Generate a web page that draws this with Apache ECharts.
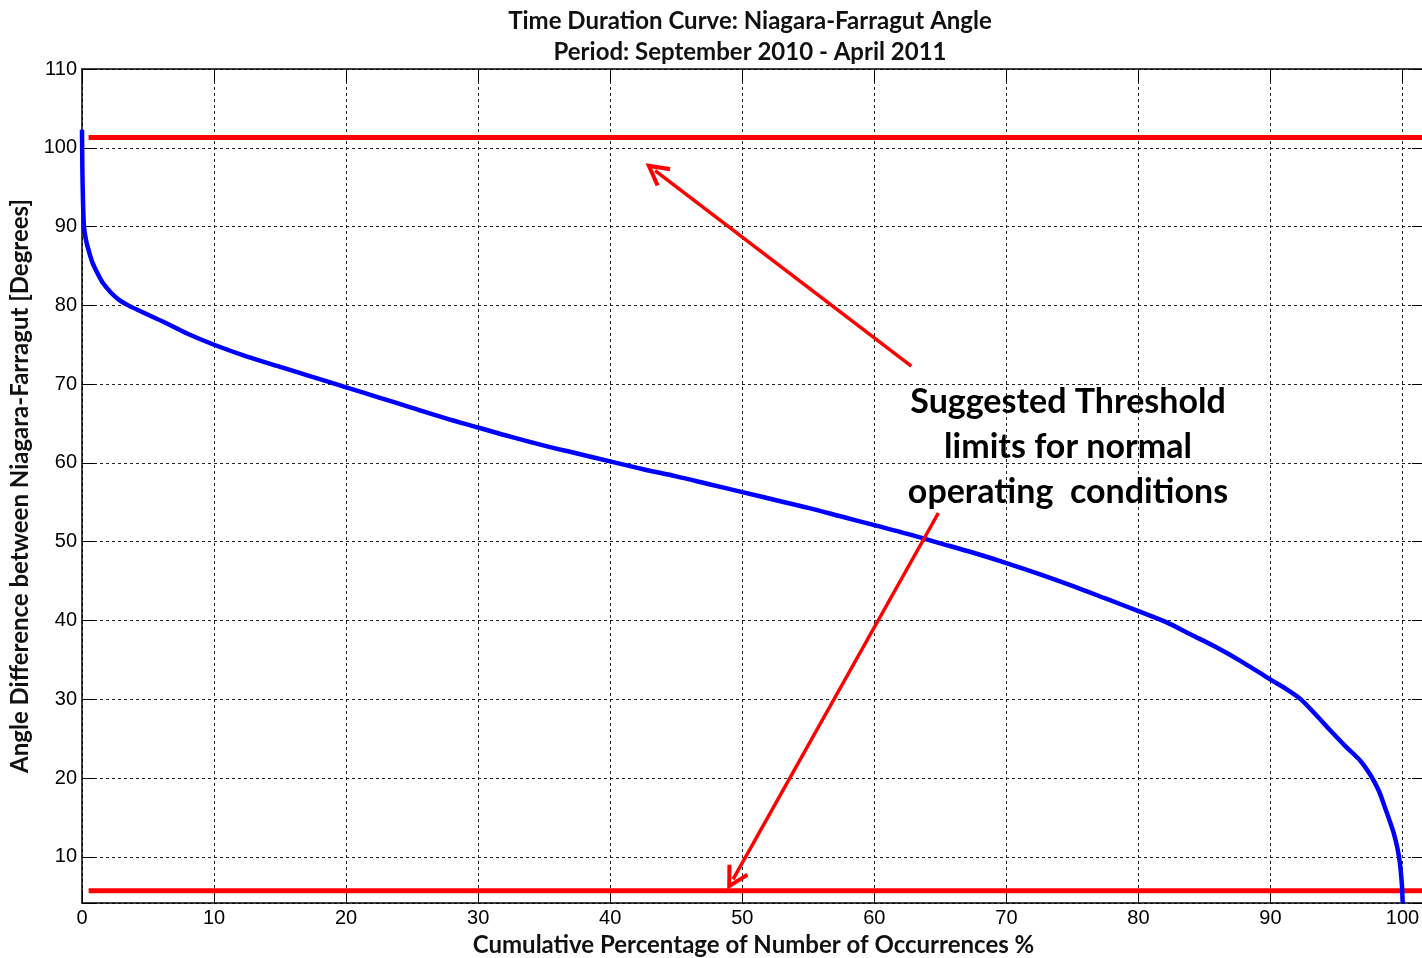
<!DOCTYPE html>
<html>
<head>
<meta charset="utf-8">
<script src="https://cdn.jsdelivr.net/npm/echarts@6/dist/echarts.min.js"></script>
<style>
  html, body { margin: 0; padding: 0; background: #fff; overflow: hidden; }
  #chart { width: 1422px; height: 958px; }
</style>
</head>
<body>
<div id="chart"></div>
<script>
// duration curve (percent of occurrences, degrees)
const durationX = [0, 0.03, 0.08, 0.15, 0.3, 0.5, 0.8, 1.2, 1.6, 2.2, 2.8, 3.5, 4.5, 6.3, 8, 10, 12.5, 15.2, 17.5, 20, 22.5, 25, 27.5, 30, 32.5, 35, 37.5, 40, 42.5, 45, 47.5, 50, 52.5, 55, 57.5, 60, 62.5, 65, 67.5, 70, 72.5, 75, 77.5, 80, 82.1, 84, 85.9, 88, 90, 91.2, 92.3, 93.4, 94.5, 95.7, 96.8, 97.6, 98.2, 98.6, 99, 99.3, 99.6, 99.8, 99.95, 100, 100.02]
const durationY = [102.3, 97, 93, 90, 88.3, 87, 85.4, 84, 82.8, 81.6, 80.7, 80, 79.2, 77.8, 76.4, 75, 73.5, 72.1, 70.9, 69.6, 68.3, 67, 65.7, 64.5, 63.3, 62.2, 61.2, 60.2, 59.2, 58.3, 57.3, 56.3, 55.3, 54.3, 53.2, 52.1, 51, 49.8, 48.6, 47.3, 45.9, 44.4, 42.8, 41.2, 39.8, 38.2, 36.6, 34.6, 32.5, 31.3, 30, 28.1, 26.1, 24, 22.2, 20.3, 18.4, 16.6, 14.7, 13.2, 11.2, 9.2, 6.5, 4.6, 4.15]

const upperLimit = 101.3
const lowerLimit = 5.7
const limitStart = 0.5

// annotation arrows: [from, to] in data coordinates
const arrowUpper = [[62.8, 72.3], [43.4, 97.1]]
const arrowLower = [[64.85, 53.65], [49.3, 7.15]]

const titleLines = ['Time Duration Curve: Niagara-Farragut Angle', 'Period: September 2010 - April 2011']
const noteLines = ['Suggested Threshold', 'limits for normal', 'operating  conditions']
const xName = 'Cumulative Percentage of Number of Occurrences %'
const yName = 'Angle Difference between Niagara-Farragut [Degrees]'

const xMin = 0, xMax = 101.7
const yMin = 4.15, yMax = 110

const chart = echarts.init(document.getElementById('chart'))

const tenOnly = v => (Math.abs(v % 10) < 1e-6 ? String(Math.round(v)) : '')
const gridLine = { show: true, lineStyle: { color: '#222', width: 1, type: [3, 3] } }
const frame = { show: true, onZero: false, lineStyle: { color: '#000', width: 1.5 } }
const inTicks = { show: true, inside: true, length: 13, lineStyle: { color: '#000', width: 1 } }
const chevron = 'path://M0,0 L12,21 L8.5,23 L0,8 L-8.5,23 L-12,21 Z'
const nameFont = { fontFamily: 'Lato', fontWeight: 'bold', fontSize: 24, color: '#111' }
const tickFont = { color: '#000', fontSize: 20, fontFamily: 'Liberation Sans' }

const option = {
  animation: false,
  backgroundColor: '#fff',
  title: {
    text: titleLines.join('\n'),
    left: 745,
    textAlign: 'center',
    top: 1,
    textStyle: { fontFamily: 'Lato', fontWeight: 'bold', fontSize: 24, color: '#111', lineHeight: 31 }
  },
  // plot box is fixed in pixels; let the names sit outside it freely
  grid: { left: 82, top: 69, right: -3, bottom: 55, containLabel: false, outerBoundsMode: 'none' },
  xAxis: [
    {
      type: 'value', min: xMin, max: xMax, splitNumber: 10,
      axisLine: frame, axisTick: inTicks, splitLine: gridLine,
      axisLabel: { formatter: tenOnly, margin: 5, ...tickFont },
      name: xName, nameLocation: 'middle', nameGap: 30, nameTextStyle: nameFont
    },
    {
      type: 'value', position: 'top', min: xMin, max: xMax, splitNumber: 10,
      axisLine: frame, axisTick: inTicks, splitLine: { show: false }, axisLabel: { show: false }
    }
  ],
  yAxis: [
    {
      type: 'value', min: yMin, max: yMax, splitNumber: 10,
      axisLine: frame, axisTick: inTicks, splitLine: gridLine,
      axisLabel: { formatter: tenOnly, margin: 5, ...tickFont },
      name: yName, nameLocation: 'middle', nameGap: 48, nameRotate: 90, nameTextStyle: nameFont
    },
    {
      type: 'value', position: 'right', min: yMin, max: yMax, splitNumber: 10,
      axisLine: frame, axisTick: inTicks, splitLine: { show: false }, axisLabel: { show: false }
    }
  ],
  graphic: [
    {
      type: 'text',
      x: 1068, y: 380,
      z: 100,
      style: {
        text: noteLines.join('\n'),
        align: 'center',
        textAlign: 'center',
        font: 'bold 34px Lato',
        lineHeight: 45,
        fill: '#000'
      }
    }
  ],
  series: [
    {
      name: 'upper', type: 'line', symbol: 'none', z: 2,
      data: [[limitStart, upperLimit], [xMax, upperLimit]],
      lineStyle: { color: '#ff0000', width: 5 }
    },
    {
      name: 'lower', type: 'line', symbol: 'none', z: 2,
      data: [[limitStart, lowerLimit], [xMax, lowerLimit]],
      lineStyle: { color: '#ff0000', width: 5 },
      markLine: {
        silent: true,
        symbol: ['none', chevron],
        symbolSize: [24, 24],
        label: { show: false },
        lineStyle: { color: '#ff0000', width: 3.5, type: 'solid' },
        data: [
          [{ coord: arrowUpper[0] }, { coord: arrowUpper[1] }],
          [{ coord: arrowLower[0] }, { coord: arrowLower[1] }]
        ]
      }
    },
    {
      name: 'duration', type: 'line', symbol: 'none', smooth: 0.3, z: 3,
      data: durationX.map((x, i) => [x, durationY[i]]),
      lineStyle: { color: '#0000ff', width: 4.5 }
    }
  ]
}

chart.setOption(option)
</script>
</body>
</html>
